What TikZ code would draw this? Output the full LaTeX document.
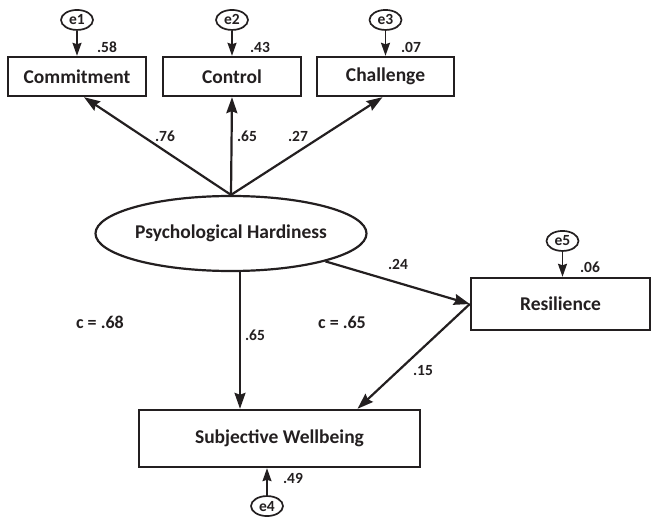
\documentclass[tikz,border=0pt]{standalone}
\usepackage{fontspec}
\setmainfont{Carlito}
\usetikzlibrary{shapes.geometric, arrows.meta, positioning}
\definecolor{ink}{RGB}{35,31,32}
\tikzset{
    obs/.style={rectangle, draw=ink, line width=2.4pt, minimum height=39pt, inner sep=0pt, text=ink, font=\fontsize{19.5}{22}\selectfont\bfseries},
    latent/.style={ellipse, draw=ink, line width=2.2pt, minimum width=271pt, minimum height=75pt, inner sep=0pt, text=ink, font=\fontsize{19.5}{22}\selectfont\bfseries},
    err/.style={ellipse, draw=ink, line width=1.7pt, minimum width=32pt, minimum height=20pt, inner sep=0pt, text=ink, font=\fontsize{15.5}{17}\selectfont\bfseries},
    lbl/.style={text=ink, inner sep=0pt, font=\fontsize{15.5}{17}\selectfont\bfseries},
    clbl/.style={text=ink, inner sep=0pt, font=\fontsize{18}{20}\selectfont\bfseries},
    arrow/.style={draw=ink, line width=2.2pt, -{Stealth[length=16pt, width=11pt, inset=2pt]}},
    errarrow/.style={draw=ink, line width=1.7pt, -{Stealth[length=13pt, width=9pt, inset=1.5pt]}}
}
\begin{document}
\begin{tikzpicture}[x=1pt, y=1pt]
    \useasboundingbox (0,0) rectangle (655,517);

    % indicators
    \node (com) [obs, minimum width=138pt] at (77,440.5) {Commitment};
    \node (con) [obs, minimum width=138pt] at (232,440.5) {Control};
    \node (cha) [obs, minimum width=137pt] at (385.5,440.5) {Challenge};
    \node (e1) [err, above=25pt of com] {e1};
    \node (e2) [err, above=25pt of con] {e2};
    \node (e3) [err, above=25pt of cha] {e3};

    % latent and outcomes
    \node (ph) [latent] at (231,283.5) {Psychological Hardiness};
    \node (res) [obs, minimum width=179pt, minimum height=52pt] at (560.5,213) {Resilience};
    \node (sw) [obs, minimum width=281pt, minimum height=57pt] at (279.5,78.5) {Subjective Wellbeing};
    \node (e5) [err, above=25pt of res, xshift=2pt] {e5};
    \node (e4) [err, below=27pt of sw, xshift=-12.5pt] {e4};

    % coefficients
    \node (r58) [lbl] at (107,470) {.58};
    \node (r43) [lbl] at (260,470) {.43};
    \node (r07) [lbl] at (411,470) {.07};
    \node (l76) [lbl] at (165,381) {.76};
    \node (l65) [lbl] at (247,381) {.65};
    \node (l27) [lbl] at (298,381) {.27};
    \node (p24) [lbl] at (398,253) {.24};
    \node (r06) [lbl] at (590,250) {.06};
    \node (p65) [lbl] at (255,182) {.65};
    \node (p15) [lbl] at (423,146) {.15};
    \node (r49) [lbl] at (293,39) {.49};
    \node (ctot) [clbl] at (100,195) {c = .68};
    \node (cdir) [clbl] at (342,195) {c = .65};

    \draw [arrow] (ph.north) -- ([xshift=7pt]com.south);
    \draw [arrow] (ph.north) -- (con.south);
    \draw [arrow] (ph.north) -- ([xshift=-3pt]cha.south);
    \draw [arrow] (ph) -- (res.west);
    \draw [arrow] (res.west) -- ([xshift=78pt]sw.north);
    \draw [arrow] ([xshift=9pt]ph.south) -- ([xshift=9pt]ph.south |- sw.north);

    \draw [errarrow] (e1) -- (e1 |- com.north);
    \draw [errarrow] (e2) -- (e2 |- con.north);
    \draw [errarrow] (e3) -- (e3 |- cha.north);
    \draw [errarrow] (e5) -- (e5 |- res.north);
    \draw [errarrow] (e4) -- (e4 |- sw.south);

\end{tikzpicture}
\end{document}
